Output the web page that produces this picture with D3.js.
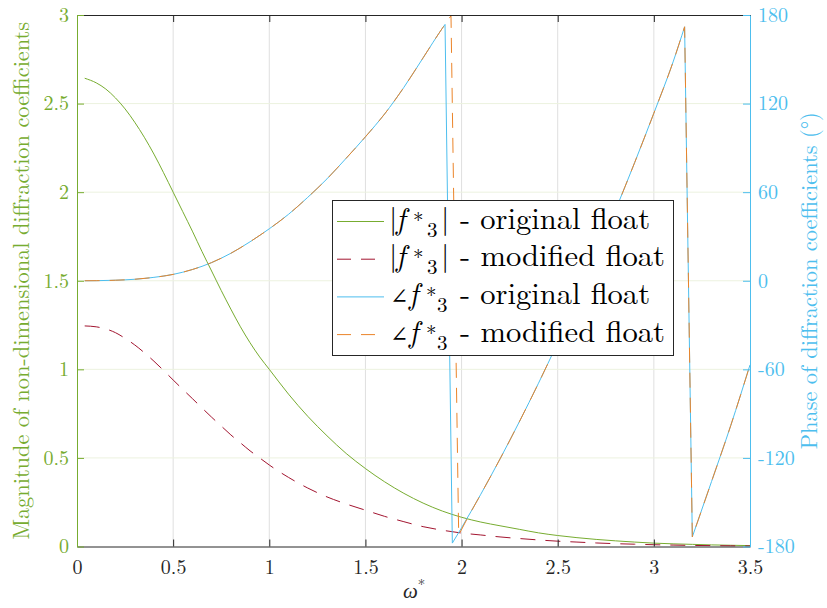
<!DOCTYPE html>
<html>
<head>
<meta charset="utf-8">
<script src="https://cdn.jsdelivr.net/npm/d3@7"></script>
<style>
  body { margin: 0; background: #fff; }
  svg { display: block; }
</style>
</head>
<body>
<svg id="chart" width="827" height="608"></svg>
<script>
// Non-dimensional frequency grid for the magnitude curves
const omegaMag = [0.04, 0.1, 0.15, 0.2, 0.25, 0.3, 0.35, 0.4, 0.45, 0.5, 0.55, 0.6, 0.65, 0.7, 0.75,
  0.8, 0.85, 0.9, 0.95, 1.0, 1.1, 1.2, 1.3, 1.4, 1.5, 1.6, 1.7, 1.8, 1.9, 2.0, 2.1, 2.2, 2.3, 2.4,
  2.5, 2.6, 2.7, 2.8, 2.9, 3.0, 3.1, 3.2, 3.3, 3.4, 3.5];

// |f*_3| for the original float
const magOriginal = [2.643, 2.617, 2.582, 2.532, 2.47, 2.395, 2.31, 2.215, 2.11, 2.0, 1.89, 1.78, 1.665,
  1.555, 1.445, 1.34, 1.24, 1.15, 1.07, 1.0, 0.86, 0.735, 0.625, 0.525, 0.44, 0.365, 0.30, 0.245,
  0.2, 0.165, 0.138, 0.117, 0.097, 0.077, 0.062, 0.05, 0.04, 0.032, 0.025, 0.019, 0.015, 0.012,
  0.009, 0.007, 0.005];

// |f*_3| for the modified float
const magModified = [1.245, 1.24, 1.228, 1.207, 1.175, 1.138, 1.094, 1.046, 0.994, 0.94, 0.887, 0.835,
  0.782, 0.73, 0.68, 0.63, 0.585, 0.54, 0.5, 0.46, 0.39, 0.33, 0.28, 0.24, 0.205, 0.17, 0.14, 0.112,
  0.092, 0.076, 0.065, 0.054, 0.045, 0.037, 0.03, 0.025, 0.02, 0.016, 0.013, 0.01, 0.008, 0.006,
  0.005, 0.004, 0.003];

// Phase of f*_3 (degrees), original float
const omegaPhaseOriginal = [0.04, 0.1, 0.2, 0.3, 0.4, 0.5, 0.6, 0.7, 0.8, 0.9, 1.0, 1.1, 1.2, 1.3, 1.4,
  1.5, 1.6, 1.7, 1.8, 1.9, 1.914, 1.952, 2.0, 2.1, 2.2, 2.3, 2.4, 2.5, 2.6, 2.7, 2.8, 2.9, 3.0, 3.1,
  3.16, 3.2, 3.3, 3.4, 3.5];
const phaseOriginal = [0, 0.05, 0.35, 1.0, 2.3, 4.3, 7.6, 12.3, 18.6, 26.4, 35.2, 45, 56.5, 69, 83,
  97.5, 113, 131, 151, 171, 173.6, -177.7, -167.3, -144.6, -120.7, -95.6, -69.4, -41.9, -13.2, 16.7,
  47.7, 80.0, 113.5, 148.2, 172, -173.5, -136, -98, -57];

// Phase of f*_3 (degrees), modified float
const omegaPhaseModified = [0.04, 0.1, 0.2, 0.3, 0.4, 0.5, 0.6, 0.7, 0.8, 0.9, 1.0, 1.1, 1.2, 1.3, 1.4,
  1.5, 1.6, 1.7, 1.8, 1.9, 1.914, 1.945, 1.985, 2.03, 2.1, 2.2, 2.3, 2.4, 2.5, 2.6, 2.7, 2.8, 2.9,
  3.0, 3.1, 3.16, 3.2, 3.3, 3.4, 3.5];
const phaseModified = [0, 0.05, 0.35, 1.0, 2.3, 4.3, 7.6, 12.3, 18.6, 26.4, 35.2, 45, 56.5, 69, 83,
  97.5, 113, 131, 151, 171, 173.6, 179.5, -172.2, -161, -144.6, -120.7, -95.6, -69.4, -41.9, -13.2,
  16.7, 47.7, 80.0, 113.5, 148.2, 172, -173.5, -136, -98, -57];

// Tick labels
const xTicks = [0, 0.5, 1, 1.5, 2, 2.5, 3, 3.5];
const yLeftTicks = [0, 0.5, 1, 1.5, 2, 2.5, 3];
const yRightTicks = [-180, -120, -60, 0, 60, 120, 180];

const seriesNames = ["original float", "modified float", "original float", "modified float"];
const seriesSymbol = ["abs", "abs", "angle", "angle"];

const colors = {
  green: "#77AC30",
  red: "#A2142F",
  blue: "#4DBEEE",
  orange: "#EB8429",
  axis: "#262626"
};

const FONT = "Latin Modern Roman";

const svg = d3.select("#chart");
const plot = { left: 77, right: 750, top: 15, bottom: 546.5 };

const x = d3.scaleLinear().domain([0, 3.5]).range([plot.left, plot.right]);
const yL = d3.scaleLinear().domain([0, 3]).range([plot.bottom, plot.top]);
const yR = d3.scaleLinear().domain([-180, 180]).range([plot.bottom, plot.top]);

svg.append("defs").append("clipPath").attr("id", "plotClip")
  .append("rect")
  .attr("x", plot.left).attr("y", plot.top - 1)
  .attr("width", plot.right - plot.left).attr("height", plot.bottom - plot.top + 2);

// Grid
const grid = svg.append("g");
grid.selectAll("line.v").data(xTicks.slice(1, -1)).join("line")
  .attr("x1", d => x(d)).attr("x2", d => x(d))
  .attr("y1", plot.top).attr("y2", plot.bottom)
  .attr("stroke", "#DFDFDF").attr("stroke-width", 1);
grid.selectAll("line.h").data(yLeftTicks.slice(1, -1)).join("line")
  .attr("x1", plot.left).attr("x2", plot.right)
  .attr("y1", d => yL(d)).attr("y2", d => yL(d))
  .attr("stroke", "#ECF2DF").attr("stroke-width", 1);

// Data lines
const lines = svg.append("g").attr("clip-path", "url(#plotClip)");

const magLine = vals => d3.line().curve(d3.curveMonotoneX)
  .x((d, i) => x(omegaMag[i])).y(d => yL(d))(vals);

// Phase curves wrap at ±180°: each branch is smoothed on its own and the
// wrap-around jumps are joined by straight segments.
function phasePath(ws, vals) {
  const pts = ws.map((w, i) => [w, vals[i]]);
  const branches = [[pts[0]]];
  for (let i = 1; i < pts.length; i++) {
    if (pts[i][1] - pts[i - 1][1] < -180) branches.push([]);
    branches[branches.length - 1].push(pts[i]);
  }
  const gen = d3.line().curve(d3.curveMonotoneX).x(d => x(d[0])).y(d => yR(d[1]));
  return branches.map((b, k) => {
    const d = gen(b);
    return k === 0 ? d : "L" + d.slice(1);
  }).join("");
}

lines.append("path").attr("d", magLine(magOriginal))
  .attr("fill", "none").attr("stroke", colors.green).attr("stroke-width", 1);
lines.append("path").attr("d", magLine(magModified))
  .attr("fill", "none").attr("stroke", colors.red).attr("stroke-width", 1)
  .attr("stroke-dasharray", "15,10");
lines.append("path").attr("d", phasePath(omegaPhaseOriginal, phaseOriginal))
  .attr("fill", "none").attr("stroke", colors.blue).attr("stroke-width", 1);
lines.append("path").attr("d", phasePath(omegaPhaseModified, phaseModified))
  .attr("fill", "none").attr("stroke", colors.orange).attr("stroke-width", 1)
  .attr("stroke-dasharray", "15,10");

// Axes
const tickFont = 20;
function styleAxis(g, color) {
  g.attr("font-family", FONT).attr("font-size", tickFont);
  g.select(".domain").attr("stroke", color).attr("stroke-width", 1);
  g.selectAll(".tick line").attr("stroke", color).attr("stroke-width", 1);
  g.selectAll(".tick text").attr("fill", color)
    .attr("font-family", FONT).attr("font-size", tickFont);
}

const fmt = d => String(d);

const gTop = svg.append("g").attr("transform", `translate(0,${plot.top})`)
  .call(d3.axisTop(x).tickValues(xTicks).tickSizeInner(-7).tickSizeOuter(0).tickFormat(""));
styleAxis(gTop, colors.axis);

const gBottom = svg.append("g").attr("transform", `translate(0,${plot.bottom})`)
  .call(d3.axisBottom(x).tickValues(xTicks).tickSizeInner(-7).tickSizeOuter(0).tickPadding(13).tickFormat(fmt));
styleAxis(gBottom, colors.axis);

const gLeft = svg.append("g").attr("transform", `translate(${plot.left},0)`)
  .call(d3.axisLeft(yL).tickValues(yLeftTicks).tickSizeInner(-7).tickSizeOuter(0).tickPadding(8).tickFormat(fmt));
styleAxis(gLeft, colors.green);

const gRight = svg.append("g").attr("transform", `translate(${plot.right},0)`)
  .call(d3.axisRight(yR).tickValues(yRightTicks).tickSizeInner(-7).tickSizeOuter(0).tickPadding(8).tickFormat(fmt));
styleAxis(gRight, colors.blue);

// Axis titles
const titleSize = 20;
const leftTitle = svg.append("text")
  .attr("transform", `translate(29,${(plot.top + plot.bottom) / 2}) rotate(-90)`)
  .attr("text-anchor", "middle")
  .attr("fill", colors.green)
  .attr("font-family", FONT).attr("font-size", titleSize)
  .text("Magnitude of non-dimensional diffraction coefficients");
const fitSize = titleSize * 518 / leftTitle.node().getComputedTextLength();
leftTitle.attr("font-size", fitSize);

svg.append("text")
  .attr("transform", `translate(817,${(plot.top + plot.bottom) / 2}) rotate(-90)`)
  .attr("text-anchor", "middle")
  .attr("fill", colors.blue)
  .attr("font-family", FONT).attr("font-size", fitSize)
  .text("Phase of diffraction coefficients (°)");

const xTitle = svg.append("text")
  .attr("x", 403)
  .attr("y", 598)
  .attr("fill", colors.axis)
  .attr("font-family", FONT).attr("font-size", 21);
xTitle.append("tspan").attr("font-style", "italic").text("ω");
xTitle.append("tspan").attr("dy", -8).attr("font-size", 15).text("*");

// Legend
const legend = svg.append("g");
legend.append("rect")
  .attr("x", 332.5).attr("y", 200.5).attr("width", 341).attr("height", 155)
  .attr("fill", "#fff").attr("stroke", colors.axis).attr("stroke-width", 1);

const legendColors = [colors.green, colors.red, colors.blue, colors.orange];
const legendDash = [null, "14,10", null, "14,10"];
const rowBase = 228.5, rowStep = 37.7;
const legendSize = 30, scriptSize = 21;

seriesNames.forEach((name, i) => {
  const base = rowBase + i * rowStep;
  const isAbs = seriesSymbol[i] === "abs";
  legend.append("line")
    .attr("x1", 337).attr("x2", 384)
    .attr("y1", base - 7).attr("y2", base - 7)
    .attr("stroke", legendColors[i]).attr("stroke-width", 1)
    .attr("stroke-dasharray", legendDash[i]);

  const sym = legend.append("text").attr("y", base)
    .attr("fill", "#000").attr("font-family", FONT).attr("font-size", legendSize);
  if (isAbs) {
    sym.append("tspan").attr("x", 389).text("|");
  } else {
    sym.append("tspan").attr("x", 390).attr("font-family", "DejaVu Serif").attr("font-size", 22).text("∠");
  }
  sym.append("tspan").attr("x", isAbs ? 396 : 409).attr("font-style", "italic").text("f");
  sym.append("tspan").attr("x", isAbs ? 413 : 426).attr("dy", -1).attr("font-size", scriptSize).text("*");
  sym.append("tspan").attr("x", isAbs ? 427 : 437).attr("dy", 9).attr("font-size", scriptSize).text("3");
  if (isAbs) {
    sym.append("tspan").attr("x", 441).attr("dy", -8).text("|");
  }

  legend.append("text").attr("x", 460).attr("y", base)
    .attr("fill", "#000").attr("font-family", FONT).attr("font-size", legendSize)
    .attr("textLength", i % 2 === 0 ? 190 : 205)
    .attr("lengthAdjust", "spacingAndGlyphs")
    .text("- " + name);
});
</script>
</body>
</html>
